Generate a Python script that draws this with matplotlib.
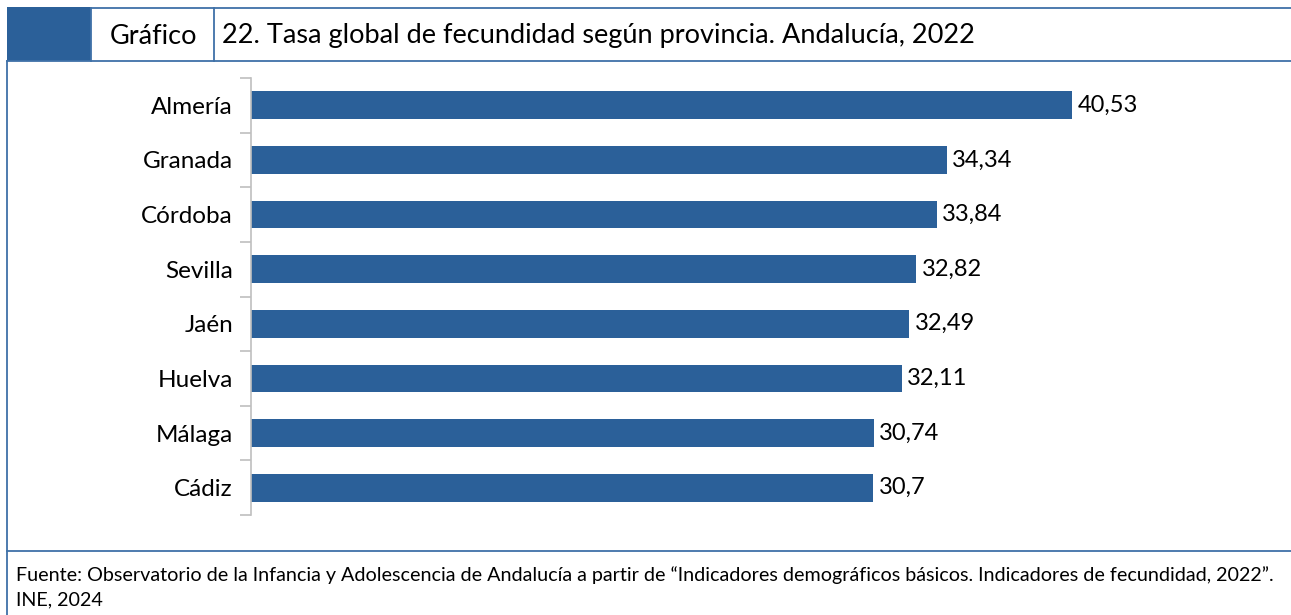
"""Tasa global de fecundidad por provincia, Andalucía 2022 (barras horizontales)."""

import matplotlib

matplotlib.use("Agg")

import matplotlib.pyplot as plt
from matplotlib.lines import Line2D
from matplotlib.patches import Rectangle

provincias = ["Almería", "Granada", "Córdoba", "Sevilla", "Jaén", "Huelva", "Málaga", "Cádiz"]
tasas = [40.53, 34.34, 33.84, 32.82, 32.49, 32.11, 30.74, 30.7]

titulo_etiqueta = "Gráfico"
titulo = "22. Tasa global de fecundidad según provincia. Andalucía, 2022"
fuente = ["Fuente: Observatorio de la Infancia y Adolescencia de Andalucía a partir de "
          "“Indicadores demográficos básicos. Indicadores de fecundidad, 2022”.",
          "INE, 2024"]

W, H = 1291, 615
BAR = "#2B6099"
LINE = "#3F71A8"
AXIS = "#BFBFBF"

plt.rcParams["font.family"] = ["Lato", "DejaVu Sans"]


def fx(px):
    return px / W


def fy(py):
    return 1 - py / H


fig = plt.figure(figsize=(W / 100, H / 100), dpi=100)

# cabecera y marco
fig.add_artist(Rectangle((fx(7), fy(61)), fx(84), 54 / H, transform=fig.transFigure,
                         facecolor=BAR, edgecolor="none"))
for (x0, x1), (y0, y1) in [((91, W), (8, 8)), ((7, W), (61, 61)), ((91, 91), (8, 61)),
                           ((214, 214), (8, 61)), ((7, 7), (61, H)), ((7, W), (551, 551))]:
    fig.add_artist(Line2D([fx(x0), fx(x1)], [fy(y0), fy(y1)], transform=fig.transFigure,
                          color=LINE, lw=1.3))
fig.text(fx(197), fy(36), titulo_etiqueta, ha="right", va="center", fontsize=19.5)
fig.text(fx(222), fy(36), titulo, ha="left", va="center", fontsize=19.5)
fig.text(fx(16), fy(575), fuente[0], ha="left", va="center", fontsize=14.2)
fig.text(fx(16), fy(600), fuente[1], ha="left", va="center", fontsize=14.2)

ax = fig.add_axes([fx(251), fy(515), fx(1264 - 251), 437 / H])
pos = list(range(len(provincias)))
ax.barh(pos, tasas, height=0.51, color=BAR)
ax.set_ylim(len(provincias) - 0.5, -0.5)
ax.set_xlim(0, 50)
ax.set_yticks(pos)
ax.set_yticklabels(provincias, fontsize=17.5)
ax.set_yticks([p - 0.5 for p in pos] + [len(provincias) - 0.5], minor=True)
ax.tick_params(axis="y", which="major", length=0, pad=13)
ax.tick_params(axis="y", which="minor", length=8, color=AXIS, width=1.2)
ax.set_xticks([])
for s in ["top", "right", "bottom"]:
    ax.spines[s].set_visible(False)
ax.spines["left"].set_color(AXIS)
ax.spines["left"].set_linewidth(1.2)

for p, v in zip(pos, tasas):
    ax.annotate(f"{v:g}".replace(".", ","), (v, p), xytext=(4, 0), textcoords="offset points",
                ha="left", va="center", fontsize=17)

fig.savefig("out.png", dpi=100)
